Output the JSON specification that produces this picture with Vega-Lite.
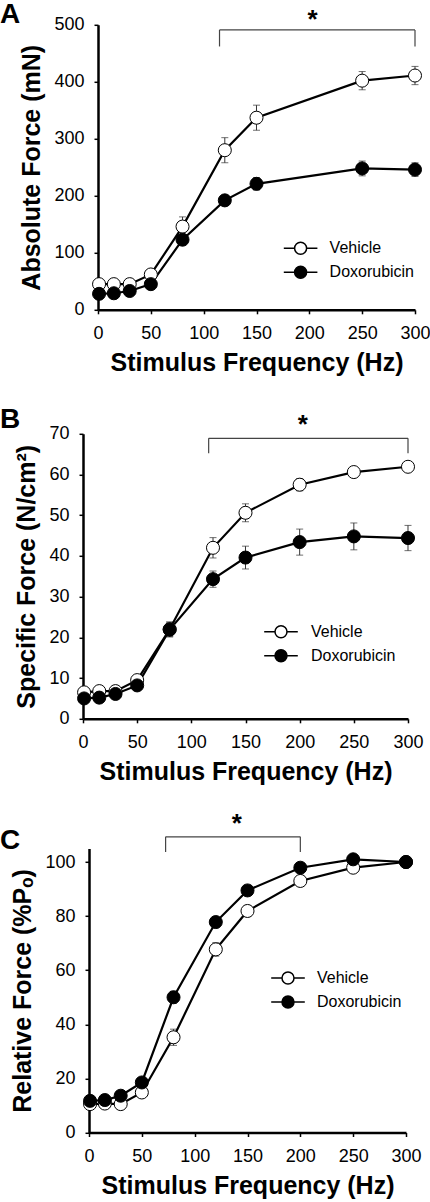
{
  "$schema": "https://vega.github.io/schema/vega-lite/v6.json",
  "padding": {"left": 0, "top": 0.8, "right": 0, "bottom": 0},
  "background": "white",
  "datasets": {
    "a": [
      {"f": 1, "g": "Vehicle", "v": 45, "lo": 42, "hi": 48},
      {"f": 15, "g": "Vehicle", "v": 45, "lo": 42, "hi": 48},
      {"f": 30, "g": "Vehicle", "v": 45, "lo": 42, "hi": 48},
      {"f": 50, "g": "Vehicle", "v": 62, "lo": 58, "hi": 66},
      {"f": 80, "g": "Vehicle", "v": 146, "lo": 129, "hi": 163},
      {"f": 120, "g": "Vehicle", "v": 280, "lo": 258, "hi": 302},
      {"f": 150, "g": "Vehicle", "v": 337, "lo": 315, "hi": 359},
      {"f": 250, "g": "Vehicle", "v": 402, "lo": 386, "hi": 418},
      {"f": 300, "g": "Vehicle", "v": 411, "lo": 395, "hi": 427},
      {"f": 1, "g": "Doxorubicin", "v": 28, "lo": 24, "hi": 32},
      {"f": 15, "g": "Doxorubicin", "v": 29, "lo": 25, "hi": 33},
      {"f": 30, "g": "Doxorubicin", "v": 33, "lo": 29, "hi": 37},
      {"f": 50, "g": "Doxorubicin", "v": 45, "lo": 40, "hi": 50},
      {"f": 80, "g": "Doxorubicin", "v": 123, "lo": 114, "hi": 132},
      {"f": 120, "g": "Doxorubicin", "v": 192, "lo": 183, "hi": 201},
      {"f": 150, "g": "Doxorubicin", "v": 221, "lo": 210, "hi": 232},
      {"f": 250, "g": "Doxorubicin", "v": 248, "lo": 235, "hi": 261},
      {"f": 300, "g": "Doxorubicin", "v": 246, "lo": 234, "hi": 258}
    ],
    "b": [
      {"f": 1, "g": "Vehicle", "v": 6.5, "lo": 6, "hi": 7},
      {"f": 15, "g": "Vehicle", "v": 6.8, "lo": 6.3, "hi": 7.3},
      {"f": 30, "g": "Vehicle", "v": 6.8, "lo": 6.3, "hi": 7.3},
      {"f": 50, "g": "Vehicle", "v": 9.5, "lo": 8.8, "hi": 10.2},
      {"f": 80, "g": "Vehicle", "v": 22, "lo": 20.2, "hi": 23.8},
      {"f": 120, "g": "Vehicle", "v": 42, "lo": 39.5, "hi": 44.5},
      {"f": 150, "g": "Vehicle", "v": 50.6, "lo": 48.4, "hi": 52.8},
      {"f": 200, "g": "Vehicle", "v": 57.5, "lo": 56, "hi": 59},
      {"f": 250, "g": "Vehicle", "v": 60.6, "lo": 59.8, "hi": 61.4},
      {"f": 300, "g": "Vehicle", "v": 61.9, "lo": 61, "hi": 62.8},
      {"f": 1, "g": "Doxorubicin", "v": 5, "lo": 4.5, "hi": 5.5},
      {"f": 15, "g": "Doxorubicin", "v": 5.2, "lo": 4.7, "hi": 5.7},
      {"f": 30, "g": "Doxorubicin", "v": 6.1, "lo": 5.6, "hi": 6.6},
      {"f": 50, "g": "Doxorubicin", "v": 8.2, "lo": 7.5, "hi": 8.9},
      {"f": 80, "g": "Doxorubicin", "v": 21.9, "lo": 20.1, "hi": 23.7},
      {"f": 120, "g": "Doxorubicin", "v": 34.3, "lo": 32.3, "hi": 36.3},
      {"f": 150, "g": "Doxorubicin", "v": 39.6, "lo": 36.8, "hi": 42.4},
      {"f": 200, "g": "Doxorubicin", "v": 43.4, "lo": 40.2, "hi": 46.6},
      {"f": 250, "g": "Doxorubicin", "v": 44.8, "lo": 41.5, "hi": 48.1},
      {"f": 300, "g": "Doxorubicin", "v": 44.4, "lo": 41.3, "hi": 47.5}
    ],
    "c": [
      {"f": 1, "g": "Vehicle", "v": 10.5, "lo": 10, "hi": 11},
      {"f": 15, "g": "Vehicle", "v": 10.7, "lo": 10.2, "hi": 11.2},
      {"f": 30, "g": "Vehicle", "v": 10.5, "lo": 10, "hi": 11},
      {"f": 50, "g": "Vehicle", "v": 14.8, "lo": 14, "hi": 15.6},
      {"f": 80, "g": "Vehicle", "v": 35.2, "lo": 32.2, "hi": 38.2},
      {"f": 120, "g": "Vehicle", "v": 67.7, "lo": 65.2, "hi": 70.2},
      {"f": 150, "g": "Vehicle", "v": 81.9, "lo": 80.9, "hi": 82.9},
      {"f": 200, "g": "Vehicle", "v": 93, "lo": 92, "hi": 94},
      {"f": 250, "g": "Vehicle", "v": 97.9, "lo": 97, "hi": 98.8},
      {"f": 300, "g": "Vehicle", "v": 100, "lo": 100, "hi": 100},
      {"f": 1, "g": "Doxorubicin", "v": 11.7, "lo": 11.2, "hi": 12.2},
      {"f": 15, "g": "Doxorubicin", "v": 12, "lo": 11.5, "hi": 12.5},
      {"f": 30, "g": "Doxorubicin", "v": 13.6, "lo": 13, "hi": 14.2},
      {"f": 50, "g": "Doxorubicin", "v": 18.5, "lo": 17.7, "hi": 19.3},
      {"f": 80, "g": "Doxorubicin", "v": 50, "lo": 47.8, "hi": 52.2},
      {"f": 120, "g": "Doxorubicin", "v": 77.8, "lo": 76.8, "hi": 78.8},
      {"f": 150, "g": "Doxorubicin", "v": 89.5, "lo": 89, "hi": 90},
      {"f": 200, "g": "Doxorubicin", "v": 97.9, "lo": 97.4, "hi": 98.4},
      {"f": 250, "g": "Doxorubicin", "v": 101, "lo": 100.5, "hi": 101.5},
      {"f": 300, "g": "Doxorubicin", "v": 100, "lo": 100, "hi": 100}
    ],
    "brA": [
      {"x1": 115, "x2": 300, "y1": 491, "y2": 491},
      {"x1": 115, "x2": 115, "y1": 491, "y2": 462},
      {"x1": 300, "x2": 300, "y1": 491, "y2": 462}
    ],
    "brB": [
      {"x1": 116, "x2": 300, "y1": 68.9, "y2": 68.9},
      {"x1": 116, "x2": 116, "y1": 68.9, "y2": 65.2},
      {"x1": 300, "x2": 300, "y1": 68.9, "y2": 65.2}
    ],
    "brC": [
      {"x1": 72.5, "x2": 200, "y1": 109.3, "y2": 109.3},
      {"x1": 72.5, "x2": 72.5, "y1": 109.3, "y2": 103.7},
      {"x1": 200, "x2": 200, "y1": 109.3, "y2": 103.7}
    ],
    "stA": [{"x": 203, "y": 495, "t": "*"}],
    "stB": [{"x": 203, "y": 70.3, "t": "*"}],
    "stC": [{"x": 140, "y": 111, "t": "*"}]
  },
  "bounds": "flush",
  "spacing": 124,
  "resolve": {"scale": {"fill": "independent"}, "legend": {"fill": "independent"}},
  "vconcat": [
    {
      "width": 332,
      "height": 285,
      "title": {"text": "A", "anchor": "start", "frame": "group", "dx": -83, "offset": -44.5, "baseline": "alphabetic", "fontSize": 28, "fontWeight": "bold"},
      "encoding": {
        "x": {"type": "quantitative", "title": "Stimulus Frequency (Hz)", "scale": {"domain": [0, 300], "range": [15, 332], "nice": false}, "axis": {"values": [0, 50, 100, 150, 200, 250, 300]}},
        "y": {"type": "quantitative", "title": "Absolute Force (mN)", "scale": {"domain": [0, 500], "nice": false}, "axis": {"values": [0, 100, 200, 300, 400, 500], "offset": -15}}
      },
      "layer": [
        {
          "data": {"name": "a"},
          "mark": {"type": "errorbar", "ticks": true, "size": 7, "thickness": 1, "color": "#333"},
          "encoding": {"x": {"field": "f"}, "y": {"field": "lo"}, "y2": {"field": "hi"}, "detail": {"field": "g"}}
        },
        {
          "data": {"name": "a"},
          "mark": {"type": "line", "color": "black", "strokeWidth": 2.2},
          "encoding": {"x": {"field": "f"}, "y": {"field": "v"}, "detail": {"field": "g"}}
        },
        {
          "data": {"name": "a"},
          "mark": {"type": "point", "filled": true, "size": 170, "stroke": "black", "strokeWidth": 1, "opacity": 1},
          "encoding": {
            "x": {"field": "f"}, "y": {"field": "v"},
            "fill": {"field": "g", "type": "nominal", "scale": {"domain": ["Vehicle", "Doxorubicin"], "range": ["white", "black"]},
              "legend": {"orient": "none", "legendX": 209.6, "legendY": 215.5, "title": null, "symbolType": "M-2.8,0L-1,0M1,0L2.8,0M-1,0A1,1,0,1,1,1,0A1,1,0,1,1,-1,0Z", "symbolSize": 144, "symbolStrokeColor": "black", "symbolStrokeWidth": 1.5, "labelFontSize": 16, "labelOffset": 21, "rowPadding": 6, "padding": 0}}
          }
        },
        {
          "data": {"name": "brA"},
          "mark": {"type": "rule", "color": "#444", "strokeWidth": 1.2},
          "encoding": {"x": {"field": "x1"}, "x2": {"field": "x2"}, "y": {"field": "y1"}, "y2": {"field": "y2"}}
        },
        {
          "data": {"name": "stA"},
          "mark": {"type": "text", "fontSize": 26, "fontWeight": "bold", "baseline": "alphabetic", "align": "center", "color": "black"},
          "encoding": {"x": {"field": "x"}, "y": {"field": "y"}, "text": {"field": "t"}}
        }
      ]
    },
    {
      "width": 325,
      "height": 285,
      "title": {"text": "B", "anchor": "start", "frame": "group", "dx": -83, "offset": -44, "baseline": "alphabetic", "fontSize": 28, "fontWeight": "bold"},
      "encoding": {
        "x": {"type": "quantitative", "title": "Stimulus Frequency (Hz)", "scale": {"domain": [0, 300], "nice": false}, "axis": {"values": [0, 50, 100, 150, 200, 250, 300]}},
        "y": {"type": "quantitative", "title": "Specific Force (N/cm²)", "scale": {"domain": [0, 70], "nice": false}, "axis": {"values": [0, 10, 20, 30, 40, 50, 60, 70]}}
      },
      "layer": [
        {
          "data": {"name": "b"},
          "mark": {"type": "errorbar", "ticks": true, "size": 7, "thickness": 1, "color": "#333"},
          "encoding": {"x": {"field": "f"}, "y": {"field": "lo"}, "y2": {"field": "hi"}, "detail": {"field": "g"}}
        },
        {
          "data": {"name": "b"},
          "mark": {"type": "line", "color": "black", "strokeWidth": 2.2},
          "encoding": {"x": {"field": "f"}, "y": {"field": "v"}, "detail": {"field": "g"}}
        },
        {
          "data": {"name": "b"},
          "mark": {"type": "point", "filled": true, "size": 170, "stroke": "black", "strokeWidth": 1, "opacity": 1},
          "encoding": {
            "x": {"field": "f"}, "y": {"field": "v"},
            "fill": {"field": "g", "type": "nominal", "scale": {"domain": ["Vehicle", "Doxorubicin"], "range": ["white", "black"]},
              "legend": {"orient": "none", "legendX": 190, "legendY": 190, "title": null, "symbolType": "M-2.8,0L-1,0M1,0L2.8,0M-1,0A1,1,0,1,1,1,0A1,1,0,1,1,-1,0Z", "symbolSize": 144, "symbolStrokeColor": "black", "symbolStrokeWidth": 1.5, "labelFontSize": 16, "labelOffset": 22, "rowPadding": 6, "padding": 0}}
          }
        },
        {
          "data": {"name": "brB"},
          "mark": {"type": "rule", "color": "#444", "strokeWidth": 1.2},
          "encoding": {"x": {"field": "x1"}, "x2": {"field": "x2"}, "y": {"field": "y1"}, "y2": {"field": "y2"}}
        },
        {
          "data": {"name": "stB"},
          "mark": {"type": "text", "fontSize": 26, "fontWeight": "bold", "baseline": "alphabetic", "align": "center", "color": "black"},
          "encoding": {"x": {"field": "x"}, "y": {"field": "y"}, "text": {"field": "t"}}
        }
      ]
    },
    {
      "width": 323,
      "height": 289.7,
      "title": {"text": "C", "anchor": "start", "frame": "group", "dx": -83, "offset": -65.5, "baseline": "alphabetic", "fontSize": 28, "fontWeight": "bold"},
      "encoding": {
        "x": {"type": "quantitative", "title": "Stimulus Frequency (Hz)", "scale": {"domain": [0, 300], "range": [6, 323], "nice": false}, "axis": {"values": [0, 50, 100, 150, 200, 250, 300]}},
        "y": {"type": "quantitative", "title": "Relative Force (%Pₒ)", "scale": {"domain": [0, 105], "range": [289.7, 5.7], "nice": false}, "axis": {"values": [0, 20, 40, 60, 80, 100], "offset": -6}}
      },
      "layer": [
        {
          "data": {"name": "c"},
          "mark": {"type": "errorbar", "ticks": true, "size": 7, "thickness": 1, "color": "#333"},
          "encoding": {"x": {"field": "f"}, "y": {"field": "lo"}, "y2": {"field": "hi"}, "detail": {"field": "g"}}
        },
        {
          "data": {"name": "c"},
          "mark": {"type": "line", "color": "black", "strokeWidth": 2.2},
          "encoding": {"x": {"field": "f"}, "y": {"field": "v"}, "detail": {"field": "g"}}
        },
        {
          "data": {"name": "c"},
          "mark": {"type": "point", "filled": true, "size": 170, "stroke": "black", "strokeWidth": 1, "opacity": 1},
          "encoding": {
            "x": {"field": "f"}, "y": {"field": "v"},
            "fill": {"field": "g", "type": "nominal", "scale": {"domain": ["Vehicle", "Doxorubicin"], "range": ["white", "black"]},
              "legend": {"orient": "none", "legendX": 197, "legendY": 127.2, "title": null, "symbolType": "M-2.8,0L-1,0M1,0L2.8,0M-1,0A1,1,0,1,1,1,0A1,1,0,1,1,-1,0Z", "symbolSize": 144, "symbolStrokeColor": "black", "symbolStrokeWidth": 1.5, "labelFontSize": 16, "labelOffset": 21, "rowPadding": 6, "padding": 0}}
          }
        },
        {
          "data": {"name": "brC"},
          "mark": {"type": "rule", "color": "#444", "strokeWidth": 1.2},
          "encoding": {"x": {"field": "x1"}, "x2": {"field": "x2"}, "y": {"field": "y1"}, "y2": {"field": "y2"}}
        },
        {
          "data": {"name": "stC"},
          "mark": {"type": "text", "fontSize": 26, "fontWeight": "bold", "baseline": "alphabetic", "align": "center", "color": "black"},
          "encoding": {"x": {"field": "x"}, "y": {"field": "y"}, "text": {"field": "t"}}
        }
      ]
    }
  ],
  "config": {
    "font": "Liberation Sans",
    "view": {"stroke": null},
    "axis": {"grid": false, "labelFlush": false, "domainColor": "black", "domainWidth": 2.5, "tickColor": "black", "tickWidth": 1.5, "tickSize": 4, "labelFont": "Liberation Sans", "labelFontSize": 18, "labelColor": "black", "titleFont": "Liberation Sans", "titleFontSize": 25, "titleFontWeight": "bold", "titleColor": "black"},
    "axisX": {"labelPadding": 11, "titlePadding": 8},
    "axisY": {"labelPadding": 10, "titlePadding": 9},
    "legend": {"labelFont": "Liberation Sans", "labelFontSize": 16, "labelColor": "black"},
    "title": {"font": "Liberation Sans", "color": "black"}
  }
}
